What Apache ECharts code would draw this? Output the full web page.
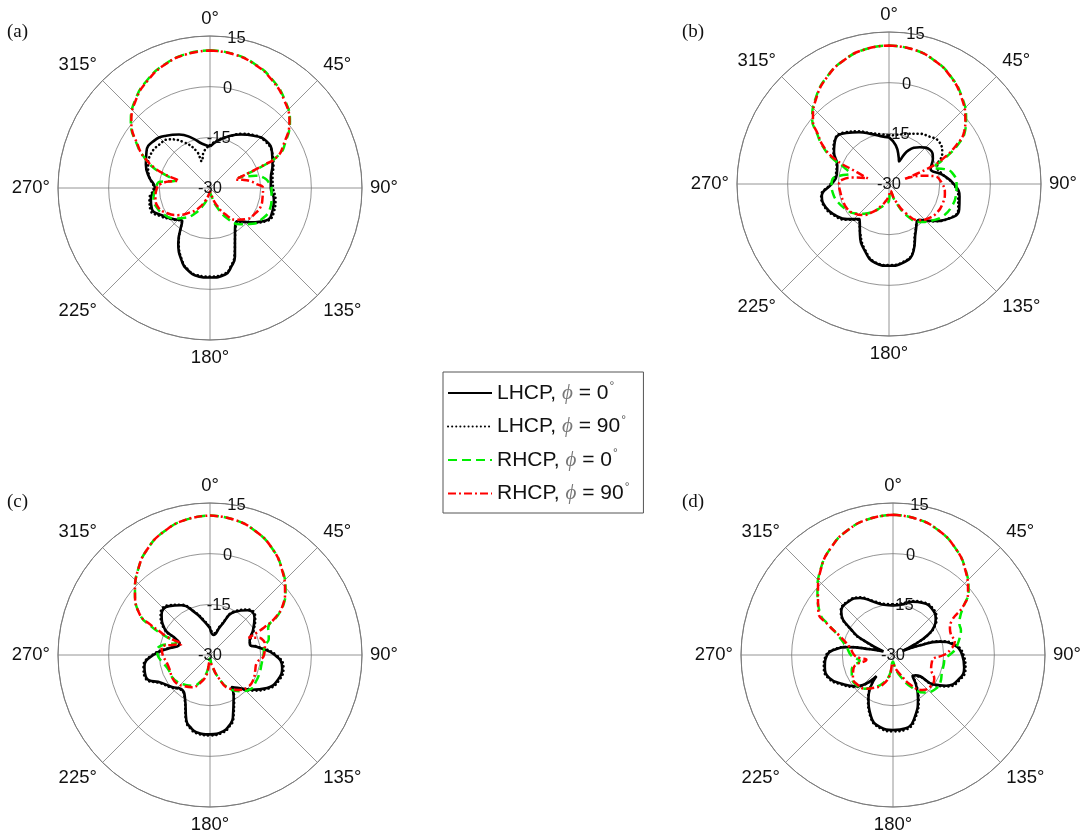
<!DOCTYPE html>
<html><head><meta charset="utf-8">
<script src="https://cdn.jsdelivr.net/npm/echarts@6/dist/echarts.min.js"></script>
<style>html,body{margin:0;padding:0;background:#fff}#c{width:1080px;height:835px}</style>
</head><body><div id="c"></div>
<script>
// ---- data: [angle (deg), gain (dB)] ----
const names = ['LHCP, ϕ = 0°', 'LHCP, ϕ = 90°', 'RHCP, ϕ = 0°', 'RHCP, ϕ = 90°'];
const panelLabels = ['(a)', '(b)', '(c)', '(d)'];
const angleTicks = [0, 45, 90, 135, 180, 225, 270, 315];
const radiusTicks = [-30, -15, 0, 15];

const a_LHCP0 = [[0,-17.7],[10,-15.7],[20,-13.7],[30,-11.7],[40,-9.8],[50,-8.3],[60,-8.8],[70,-10.3],[80,-11.7],[90,-12],[100,-10.8],[110,-10.3],[120,-10.8],[130,-14.2],[140,-17.2],[150,-15.2],[160,-8.4],[165,-5.8],[170,-4],[180,-3.5],[190,-3.8],[195,-4.8],[200,-6.3],[210,-11.2],[220,-17.2],[230,-15.7],[240,-13.7],[250,-11.7],[260,-12.2],[270,-13.7],[280,-11.7],[290,-9.8],[300,-8.3],[310,-8.3],[320,-9.8],[330,-11.7],[340,-14.2],[350,-16.7],[360,-17.7]];
const a_LHCP90 = [[0,-17.3],[10,-15.5],[20,-13.8],[30,-11.5],[40,-9.6],[50,-8.6],[60,-8.8],[70,-10],[80,-11.2],[90,-11.3],[100,-10.3],[110,-9.8],[120,-10.5],[130,-14],[140,-17],[150,-15],[160,-8.8],[165,-6.1],[170,-4.3],[180,-3.8],[190,-4],[195,-5],[200,-6.5],[210,-11.5],[220,-17],[230,-15.5],[240,-13.2],[250,-11.2],[260,-11.8],[270,-13.3],[280,-11.8],[290,-10.5],[300,-9.8],[310,-10.2],[320,-11.2],[330,-14.3],[340,-18.4],[343,-21.7],[350,-19.2],[360,-17.3]];
const a_RHCP0 = [[0,10.8],[10,10.3],[20,9],[30,7],[40,4.3],[50,0.9],[60,-4.5],[64,-7],[67,-12],[70,-21],[75,-16],[80,-13.5],[85,-12.5],[90,-11.8],[100,-11.5],[110,-11.2],[120,-12],[130,-13.5],[140,-16],[150,-19.5],[160,-24],[170,-27.5],[180,-28.5],[190,-27.5],[200,-25],[210,-21.5],[220,-18.5],[230,-16],[240,-14.3],[250,-13.2],[260,-13],[270,-14],[277,-15],[282,-19.5],[287,-15.5],[290,-12],[295,-8.5],[300,-5.3],[310,0.6],[320,4.3],[330,7],[340,9],[350,10.3],[360,10.8]];
const a_RHCP90 = [[0,10.7],[10,10.2],[20,8.9],[30,6.8],[40,4.1],[50,0.7],[60,-5],[65,-8],[67,-13],[72,-22],[76,-20],[80,-18],[85,-16.3],[90,-14.3],[100,-14.2],[110,-14],[120,-14.7],[130,-15.7],[140,-17.7],[150,-21.1],[160,-25],[170,-28],[180,-29],[190,-28],[200,-26],[210,-23],[220,-20.5],[230,-17.5],[240,-15.2],[250,-13.6],[260,-13.6],[270,-14.3],[275,-15.5],[280,-18.5],[283,-20.5],[287,-16],[290,-12.5],[295,-8.5],[300,-5.5],[310,0.4],[320,4.1],[330,6.8],[340,8.9],[350,10.2],[360,10.7]];

const b_LHCP0 = [[0,-16.2],[10,-18.4],[20,-21.6],[24,-22.7],[30,-18.5],[40,-15.8],[50,-14.2],[60,-15],[70,-16.9],[80,-14],[90,-10.8],[100,-8.8],[110,-7.9],[120,-9.5],[130,-13],[140,-16.2],[150,-14.1],[160,-8.8],[170,-6.3],[180,-5.8],[190,-6.3],[200,-9],[210,-12.8],[220,-16.5],[230,-13.8],[240,-11.6],[250,-10],[260,-9.8],[270,-13],[280,-14.3],[290,-13.7],[300,-11.2],[310,-9.3],[320,-10.3],[330,-12.3],[340,-14.2],[350,-15.6],[360,-16.2]];
const b_LHCP90 = [[0,-15.7],[10,-15.2],[20,-14.2],[30,-12.8],[40,-11.6],[50,-10.6],[60,-11.8],[70,-14.8],[80,-13.8],[90,-11],[100,-9.2],[110,-8.2],[120,-9.6],[130,-12.8],[140,-16],[150,-14.3],[160,-9],[170,-6.5],[180,-6],[190,-6.5],[200,-9.3],[210,-13],[220,-16.2],[230,-13.5],[240,-11.3],[250,-9.8],[260,-9.6],[270,-12.7],[280,-14],[290,-13.5],[300,-11],[310,-9.2],[320,-10],[330,-12],[340,-14],[350,-15],[360,-15.7]];
const b_RHCP0 = [[0,11],[10,10.5],[20,9],[30,6.7],[40,3.6],[50,-0.2],[55,-2.5],[60,-6.2],[65,-11.5],[70,-16],[75,-13],[80,-11],[90,-10],[100,-9.9],[110,-10.3],[120,-11.3],[130,-13.2],[140,-15.3],[150,-19],[160,-24.5],[170,-28],[180,-25],[190,-24],[200,-22.5],[210,-20.5],[220,-18.5],[230,-16.5],[240,-15.2],[250,-14],[260,-13.2],[270,-13],[275,-13.2],[280,-15.5],[285,-18],[290,-16],[295,-11],[300,-7.2],[305,-4],[310,-0.3],[320,3.6],[330,6.7],[340,9],[350,10.5],[360,11]];
const b_RHCP90 = [[0,11],[10,10.5],[20,9],[30,6.6],[40,3.4],[50,-0.5],[55,-2.8],[60,-7],[65,-12.5],[68,-17],[72,-25],[76,-20],[80,-16.5],[90,-14.2],[100,-13.2],[110,-13.1],[120,-13.4],[130,-14.4],[140,-16],[150,-20],[160,-25],[170,-28],[180,-26.5],[190,-25],[200,-23],[210,-20.5],[220,-18],[230,-16.5],[240,-15.6],[250,-15.5],[260,-15.4],[270,-15.2],[275,-16],[280,-19],[285,-23.5],[290,-20],[295,-12],[300,-7.5],[305,-4.3],[310,-0.6],[320,3.4],[330,6.6],[340,9],[350,10.5],[360,11]];

const c_LHCP0 = [[0,-22.1],[10,-24],[20,-21],[30,-15.2],[40,-12.7],[50,-12.8],[60,-15.3],[70,-17.5],[76,-17.8],[80,-16],[90,-10.8],[100,-8.3],[110,-8.6],[120,-10.5],[130,-14],[140,-17.3],[146,-18.6],[150,-16],[160,-10.2],[165,-8.3],[170,-7.1],[180,-6.5],[190,-6.8],[195,-7.8],[200,-9.5],[210,-15.2],[220,-16.8],[230,-15.3],[240,-13.5],[250,-10],[260,-10.3],[270,-13.2],[280,-18],[284,-19.8],[290,-20.5],[295,-19],[300,-14.5],[310,-11.3],[320,-11.1],[330,-13],[340,-16.5],[350,-19.8],[360,-22.1]];
const c_LHCP90 = [[0,-21.8],[10,-23.5],[20,-20.5],[30,-15],[40,-12.4],[50,-12.5],[60,-15],[70,-17.3],[76,-17.8],[80,-15.7],[90,-10.4],[100,-7.9],[110,-8.2],[120,-10.1],[130,-13.6],[140,-17],[146,-18.5],[150,-15.7],[160,-9.8],[165,-8],[170,-6.8],[180,-6.2],[190,-6.5],[195,-7.5],[200,-9.2],[210,-15],[220,-16.6],[230,-15],[240,-13.2],[250,-9.7],[260,-10],[270,-12.9],[280,-17.8],[284,-19.6],[290,-20.3],[295,-18.7],[300,-14.2],[310,-10.9],[320,-10.8],[330,-12.8],[340,-16.3],[350,-19.5],[360,-21.8]];
const c_RHCP0 = [[0,11.3],[10,10.7],[20,9.1],[30,6.6],[40,3.2],[50,-0.8],[55,-3.3],[60,-7],[65,-11],[70,-11.5],[75,-12],[80,-13.5],[90,-14.2],[100,-14.5],[110,-14.4],[120,-14.3],[130,-14.3],[140,-16],[150,-18.5],[160,-23],[170,-27],[180,-29],[190,-25],[200,-21.5],[210,-19.5],[220,-18.5],[230,-17.5],[240,-17],[250,-17],[260,-16],[270,-14.5],[275,-14.3],[280,-15],[285,-17.5],[290,-19.5],[293,-15.5],[296,-10.5],[300,-6],[310,-1],[320,3.1],[330,6.6],[340,9.1],[350,10.7],[360,11.3]];
const c_RHCP90 = [[0,11.3],[10,10.7],[20,9.1],[30,6.6],[40,3.1],[50,-1],[55,-3.5],[60,-7.5],[63,-12],[66,-17.5],[70,-15],[75,-13.6],[80,-13.5],[90,-14],[100,-16],[110,-15.8],[120,-15.2],[130,-15.3],[140,-16.5],[150,-18.5],[160,-23],[170,-27],[180,-28],[190,-24],[200,-21],[210,-19],[220,-18],[230,-17],[240,-17],[250,-17.3],[260,-17],[270,-16],[279,-15.5],[285,-18.5],[291,-21],[293,-16],[295,-13.7],[297,-10.2],[300,-6],[310,-1],[320,3.1],[330,6.6],[340,9.1],[350,10.7],[360,11.3]];

const d_LHCP0 = [[0,-15.3],[10,-14.8],[20,-13.2],[30,-12.2],[40,-12.1],[50,-13.5],[55,-15],[60,-18],[64,-23],[67,-27],[70,-22],[74,-15.6],[80,-12],[90,-9.5],[100,-8.6],[110,-9.2],[120,-11.8],[126,-15.2],[132,-21],[137,-21.5],[142,-19],[150,-15.2],[160,-10.8],[170,-8],[180,-7.8],[190,-8.3],[200,-10.8],[210,-15.5],[218,-22],[225,-17.4],[230,-15.6],[240,-12.8],[250,-10],[260,-9.5],[270,-10.5],[275,-12.5],[280,-16.5],[284,-23],[290,-27],[296,-21],[300,-16.5],[310,-10],[320,-9.4],[330,-10.5],[340,-13.2],[350,-14.9],[360,-15.3]];
const d_LHCP90 = [[0,-15],[10,-14.5],[20,-13],[30,-12],[40,-11.8],[50,-13.2],[55,-14.8],[60,-17.8],[64,-22.8],[67,-26.5],[70,-21.5],[74,-15.2],[80,-11.6],[90,-9.1],[100,-8.2],[110,-8.8],[120,-11.4],[126,-14.8],[132,-20.5],[137,-21.2],[142,-18.7],[150,-14.8],[160,-10.4],[170,-7.6],[180,-7.4],[190,-8],[200,-10.5],[210,-15.2],[218,-21.8],[225,-17.2],[230,-15.3],[240,-12.5],[250,-9.7],[260,-9.2],[270,-10.2],[275,-12.2],[280,-16.2],[284,-22.6],[290,-26.5],[296,-20.6],[300,-16.2],[310,-9.8],[320,-9.2],[330,-10.3],[340,-13],[350,-14.6],[360,-15]];
const d_RHCP0 = [[0,11.5],[10,10.9],[20,9.3],[30,6.7],[40,3.3],[50,-0.8],[55,-4.3],[60,-7],[65,-8.3],[70,-8.6],[75,-9.5],[80,-10.5],[85,-11.5],[90,-13.3],[95,-14.7],[100,-14.7],[110,-14.6],[120,-13.8],[130,-14],[140,-15.5],[150,-19],[160,-23],[170,-26],[180,-28],[190,-24],[200,-21],[210,-19],[220,-17],[230,-16],[240,-16],[250,-17],[255,-18],[260,-20],[265,-19],[270,-17.5],[280,-16],[290,-12.5],[295,-9],[300,-5],[310,-0.8],[320,3.3],[330,6.7],[340,9.3],[350,10.9],[360,11.5]];
const d_RHCP90 = [[0,11.5],[10,10.9],[20,9.3],[30,6.7],[40,3.2],[50,-1],[55,-4.5],[60,-10],[65,-11.4],[70,-11.8],[78,-11.3],[85,-13],[90,-15],[95,-18],[100,-18.3],[110,-18],[120,-15.9],[130,-15.5],[140,-16.5],[150,-20],[160,-24],[170,-26],[180,-27.5],[190,-23.5],[200,-20.5],[210,-18.8],[220,-17],[230,-16.3],[240,-16.3],[250,-17.5],[255,-18.5],[260,-22],[265,-20],[270,-18.5],[280,-17],[290,-13],[295,-8.8],[300,-4.5],[310,-1],[320,3.2],[330,6.7],[340,9.3],[350,10.9],[360,11.5]];

const panels = [
  [a_LHCP0, a_LHCP90, a_RHCP0, a_RHCP90],
  [b_LHCP0, b_LHCP90, b_RHCP0, b_RHCP90],
  [c_LHCP0, c_LHCP90, c_RHCP0, c_RHCP90],
  [d_LHCP0, d_LHCP90, d_RHCP0, d_RHCP90]
];

// ---- layout & styles ----
const centers = [[210, 188], [889, 184], [210, 655], [893, 655]];
const R = 152;
const titlePos = [[7, 23], [682, 23], [7, 493], [682, 493]];
const lineStyles = [
  { color: '#000000', width: 2.6, type: 'solid' },
  { color: '#000000', width: 2.6, type: [0.1, 4], cap: 'round' },
  { color: '#00ee00', width: 2.5, type: [9, 5] },
  { color: '#ff0000', width: 2.5, type: [8, 3, 2, 3] }
];
const gridColor = '#7a7a7a';
const sansFont = 'Liberation Sans';

const polar = [], angleAxis = [], radiusAxis = [], series = [], title = [];
centers.forEach((c, p) => {
  polar.push({ center: c, radius: R });
  angleAxis.push({
    polarIndex: p, type: 'value', min: 0, max: 360, interval: 45, startAngle: 90, clockwise: true,
    axisLine: { show: true, lineStyle: { color: gridColor, width: 1 } },
    axisTick: { show: false },
    splitLine: { show: true, lineStyle: { color: gridColor, width: 0.8 } },
    axisLabel: { margin: 8, fontSize: 18.5, color: '#111', fontFamily: sansFont,
      formatter: v => angleTicks.indexOf(v) >= 0 ? v + '°' : '' }
  });
  radiusAxis.push({
    polarIndex: p, type: 'value', min: radiusTicks[0], max: radiusTicks[radiusTicks.length - 1], interval: 15,
    axisLine: { show: false }, axisTick: { show: false }, axisLabel: { show: false },
    splitLine: { show: true, lineStyle: { color: gridColor, width: 0.8 } }
  });
  panels[p].forEach((arr, k) => {
    series.push({
      type: 'line', name: names[k], coordinateSystem: 'polar', polarIndex: p,
      data: arr.map(d => [d[1], d[0]]),
      symbol: 'none', showSymbol: false, smooth: 0.5, clip: false,
      lineStyle: lineStyles[k], itemStyle: { color: lineStyles[k].color },
      animation: false, z: 3 + k
    });
  });
  title.push({ text: panelLabels[p], left: titlePos[p][0], top: titlePos[p][1], padding: 0,
    textStyle: { fontFamily: 'Liberation Serif', fontSize: 19, fontWeight: 'normal', color: '#111' } });
});
// overlay polars carrying the radius tick labels, rotated 10 degrees off the 0 deg spoke
centers.forEach((c, p) => {
  const idx = polar.length;
  polar.push({ center: c, radius: R });
  angleAxis.push({ polarIndex: idx, type: 'value', min: 0, max: 360, startAngle: 80, show: false });
  radiusAxis.push({
    polarIndex: idx, type: 'value', min: -30, max: 15, interval: 15, z: 20,
    axisLine: { show: false }, axisTick: { show: false }, splitLine: { show: false },
    axisLabel: { show: true, margin: 0, align: 'center', verticalAlign: 'middle', fontSize: 16.5,
      color: '#111', fontFamily: sansFont, showMinLabel: true, showMaxLabel: true, rotate: 0 }
  });
});

const chart = echarts.init(document.getElementById('c'), null, { renderer: 'canvas' });
chart.setOption({
  animation: false,
  backgroundColor: '#ffffff',
  title,
  polar, angleAxis, radiusAxis,
  legend: {
    data: names, orient: 'vertical', left: 443, top: 372,
    itemWidth: 44, itemHeight: 14, itemGap: 11,
    padding: [9, 14, 9, 4],
    borderColor: '#555', borderWidth: 1, backgroundColor: '#fff',
    itemStyle: { opacity: 0 },
    lineStyle: { width: 2 },
    selectedMode: false,
    formatter: name => {
      const m = name.match(/^(\w+), ϕ = (\d+)°$/);
      return '{t|' + m[1] + ', }{p|ϕ}{t| = ' + m[2] + '}{s|°}';
    },
    textStyle: {
      rich: {
        t: { fontSize: 21, fontFamily: sansFont, color: '#111' },
        p: { fontSize: 21, fontFamily: 'Liberation Serif', fontStyle: 'italic', color: '#777' },
        s: { fontSize: 12, fontFamily: sansFont, color: '#555', verticalAlign: 'top', padding: [0, 0, 12, 1] }
      }
    }
  },
  series
});
</script></body></html>
